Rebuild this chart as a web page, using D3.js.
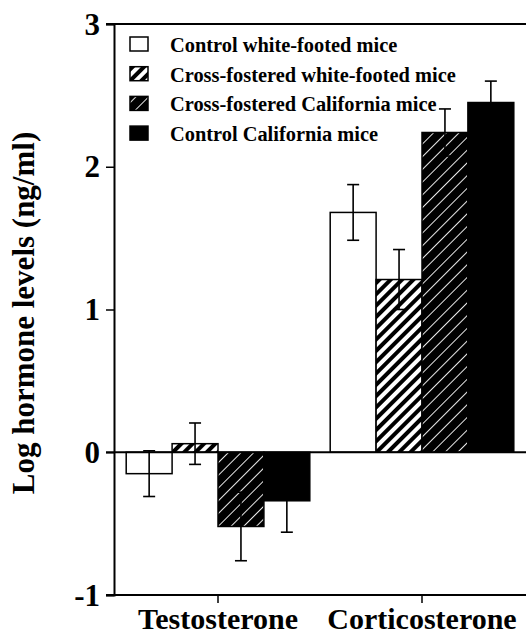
<!DOCTYPE html>
<meta charset="utf-8">
<style>
  body { margin: 0; background: #fff; }
  text { font-family: "Liberation Serif", "Times New Roman", serif; font-weight: bold; fill: #000; }
</style>
<body>
<svg width="526" height="636"></svg>
<script src="https://cdn.jsdelivr.net/npm/d3@7"></script>
<script>
  // data
  var categories = ['Testosterone', 'Corticosterone'];
  var seriesNames = [
    'Control white-footed mice',
    'Cross-fostered white-footed mice',
    'Cross-fostered California mice',
    'Control California mice'
  ];
  var controlWhite = [-0.15, 1.68];
  var crossWhite = [0.06, 1.21];
  var crossCalifornia = [-0.52, 2.24];
  var controlCalifornia = [-0.34, 2.45];
  var controlWhiteSE = [0.16, 0.195];
  var crossWhiteSE = [0.145, 0.21];
  var crossCaliforniaSE = [0.24, 0.165];
  var controlCaliforniaSE = [0.22, 0.15];
  var yTicks = [-1, 0, 1, 2, 3];

  var means = [controlWhite, crossWhite, crossCalifornia, controlCalifornia];
  var errors = [controlWhiteSE, crossWhiteSE, crossCaliforniaSE, controlCaliforniaSE];
  var fills = ['#fff', 'url(#hatchWhite)', 'url(#hatchDark)', '#000'];

  var rows = [];
  categories.forEach(function (c, ci) {
    seriesNames.forEach(function (s, si) {
      rows.push({cat: c, series: s, idx: si, mean: means[si][ci], se: errors[si][ci]});
    });
  });

  var svg = d3.select('svg');
  var plotLeft = 114, plotRight = 526, plotTop = 24, plotBottom = 595;

  var defs = svg.append('defs');
  // thick black stripes on white
  var p1 = defs.append('pattern')
    .attr('id', 'hatchWhite')
    .attr('patternUnits', 'userSpaceOnUse')
    .attr('width', 8).attr('height', 8)
    .attr('patternTransform', 'rotate(45)');
  p1.append('rect').attr('width', 8).attr('height', 8).attr('fill', '#fff');
  p1.append('rect').attr('width', 4).attr('height', 8).attr('fill', '#000');
  // black with thin white lines
  var p2 = defs.append('pattern')
    .attr('id', 'hatchDark')
    .attr('patternUnits', 'userSpaceOnUse')
    .attr('width', 9).attr('height', 9)
    .attr('patternTransform', 'rotate(45)');
  p2.append('rect').attr('width', 9).attr('height', 9).attr('fill', '#000');
  p2.append('rect').attr('x', 4).attr('width', 1).attr('height', 9).attr('fill', '#e8e8e8');

  var y = d3.scaleLinear().domain([-1, 3]).range([plotBottom, plotTop]);
  var x0 = d3.scaleBand().domain(categories).range([116, 524])
    .paddingInner(0.1).paddingOuter(0.05);
  var x1 = d3.scaleBand().domain(seriesNames).range([0, x0.bandwidth()]);

  // bars
  var g = svg.append('g');
  g.selectAll('rect.bar').data(rows).enter()
    .append('rect')
    .attr('class', 'bar')
    .attr('x', function (d) { return x0(d.cat) + x1(d.series); })
    .attr('width', x1.bandwidth())
    .attr('y', function (d) { return y(Math.max(0, d.mean)); })
    .attr('height', function (d) { return Math.abs(y(d.mean) - y(0)); })
    .attr('fill', function (d) { return fills[d.idx]; })
    .attr('stroke', '#000')
    .attr('stroke-width', 1.5);

  // error bars
  var eb = g.selectAll('g.err').data(rows).enter().append('g')
    .attr('transform', function (d) {
      return 'translate(' + (x0(d.cat) + x1(d.series) + x1.bandwidth() / 2) + ',0)';
    })
    .attr('stroke', '#000').attr('stroke-width', 1.6);
  eb.append('line')
    .attr('y1', function (d) { return y(d.mean + d.se); })
    .attr('y2', function (d) { return y(d.mean - d.se); });
  eb.append('line').attr('x1', -6).attr('x2', 6)
    .attr('y1', function (d) { return y(d.mean + d.se); })
    .attr('y2', function (d) { return y(d.mean + d.se); });
  eb.append('line').attr('x1', -6).attr('x2', 6)
    .attr('y1', function (d) { return y(d.mean - d.se); })
    .attr('y2', function (d) { return y(d.mean - d.se); });

  // axes
  var yAxis = svg.append('g')
    .attr('transform', 'translate(' + plotLeft + ',0)')
    .call(d3.axisLeft(y).tickValues(yTicks).tickSize(8).tickPadding(6)
      .tickFormat(function (d) { return String(d); }));
  yAxis.select('.domain').attr('stroke-width', 2);
  yAxis.selectAll('.tick line').attr('stroke-width', 1.5);
  yAxis.selectAll('.tick text')
    .attr('font-size', 31).attr('font-family', null).attr('dy', '0.33em');

  var xAxis = svg.append('g')
    .attr('transform', 'translate(0,' + plotBottom + ')')
    .call(d3.axisBottom(x0).tickSize(8).tickPadding(10));
  xAxis.select('.domain').remove();
  xAxis.selectAll('.tick line').attr('stroke-width', 1.5);
  xAxis.selectAll('.tick text')
    .attr('font-size', 30).attr('font-family', null).attr('y', 33.5).attr('dy', 0);

  // frame lines: bottom, top and zero line run to the right edge
  [plotBottom, plotTop, y(0)].forEach(function (yy) {
    svg.append('line')
      .attr('x1', 106).attr('x2', plotRight)
      .attr('y1', yy).attr('y2', yy)
      .attr('stroke', '#000').attr('stroke-width', 2);
  });

  // y title
  svg.append('text')
    .attr('transform', 'translate(34,' + 313 + ') rotate(-90)')
    .attr('text-anchor', 'middle')
    .attr('font-size', 31)
    .text('Log hormone levels (ng/ml)');

  // legend
  var legend = svg.append('g');
  var li = legend.selectAll('g').data(seriesNames).enter().append('g')
    .attr('transform', function (d, i) { return 'translate(130,' + (37 + i * 29.7) + ')'; });
  li.append('rect')
    .attr('width', 18).attr('height', 14)
    .attr('fill', function (d, i) { return fills[i]; })
    .attr('stroke', '#000').attr('stroke-width', 1.5);
  li.append('text')
    .attr('x', 40).attr('y', 15)
    .attr('font-size', 20.4)
    .text(function (d) { return d; });
</script>
</body>
